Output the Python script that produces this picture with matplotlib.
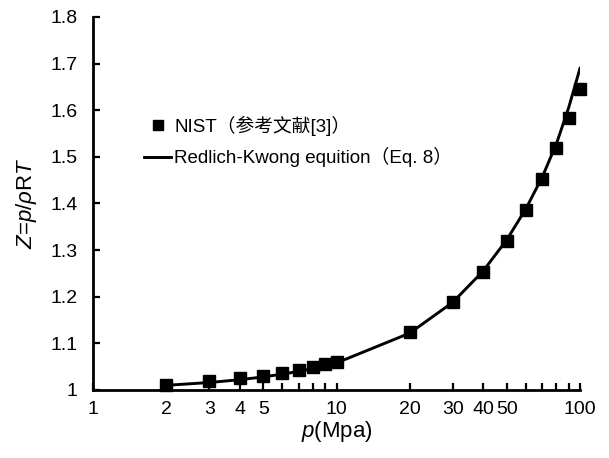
import matplotlib.pyplot as plt
from matplotlib.ticker import FixedLocator, NullFormatter

plt.rcParams['font.family'] = ['Liberation Sans', 'Noto Sans CJK SC', 'DejaVu Sans']
plt.rcParams['mathtext.fontset'] = 'custom'
plt.rcParams['mathtext.rm'] = 'Liberation Sans'
plt.rcParams['mathtext.it'] = 'Liberation Sans:italic'

# NIST 数据
p_nist = [2, 3, 4, 5, 6, 7, 8, 9, 10, 20, 30, 40, 50, 60, 70, 80, 90, 100]
z_nist = [1.011, 1.019, 1.025, 1.030, 1.037, 1.043, 1.049, 1.055, 1.060,
          1.125, 1.188, 1.254, 1.320, 1.386, 1.453, 1.519, 1.583, 1.646]

# Redlich-Kwong 方程计算值
p_rk = [2, 3, 4, 5, 6, 7, 8, 9, 10, 20, 30, 40, 50, 60, 70, 80, 90, 100]
z_rk = [1.010, 1.016, 1.022, 1.028, 1.034, 1.040, 1.046, 1.052, 1.058,
        1.122, 1.188, 1.255, 1.322, 1.389, 1.457, 1.528, 1.607, 1.690]

x_ticks = [1, 2, 3, 4, 5, 10, 20, 30, 40, 50, 100]
x_minor = [6, 7, 8, 9, 60, 70, 80, 90]
y_ticks = [1, 1.1, 1.2, 1.3, 1.4, 1.5, 1.6, 1.7, 1.8]

fig = plt.figure(figsize=(6.09, 4.58), dpi=100)
ax = fig.add_axes([0.1527, 0.1485, 0.7997, 0.8144])

ax.plot(p_rk, z_rk, color='black', lw=2.1,
        label='Redlich-Kwong equition（Eq. 8）', zorder=2)
ax.plot(p_nist, z_nist, 's', color='black', ms=8.5, ls='none',
        label='NIST（参考文献[3]）', zorder=3, clip_on=False)

ax.set_xscale('log')
ax.set_xlim(1, 100)
ax.set_ylim(1, 1.8)

ax.xaxis.set_major_locator(FixedLocator(x_ticks))
ax.xaxis.set_minor_locator(FixedLocator(x_minor))
ax.xaxis.set_minor_formatter(NullFormatter())
ax.set_xticklabels([str(t) for t in x_ticks])
ax.set_yticks(y_ticks)
ax.set_yticklabels(['1'] + [f'{t:.1f}' for t in y_ticks[1:]])

for side in ['top', 'right']:
    ax.spines[side].set_visible(False)
for side in ['left', 'bottom']:
    ax.spines[side].set_linewidth(2.0)

ax.tick_params(axis='both', which='both', direction='in', width=1.6,
               labelsize=14)
ax.tick_params(axis='both', which='major', length=5)
ax.tick_params(axis='x', which='minor', length=5)
ax.tick_params(axis='x', pad=8)
ax.tick_params(axis='y', pad=11)

ax.set_xlabel('$p$(Mpa)', fontsize=16, labelpad=1)
ax.set_ylabel('$Z$=$p$/$\\rho$R$T$', fontsize=16, labelpad=8)

handles, labels = ax.get_legend_handles_labels()
leg = ax.legend(handles[::-1], labels[::-1], loc='upper left',
                bbox_to_anchor=(0.105, 0.735), frameon=False, fontsize=13.5,
                handlelength=1.45, handletextpad=0.15, labelspacing=0.6,
                borderpad=0, borderaxespad=0, markerscale=0.85)

fig.savefig('out.png', dpi=100)
